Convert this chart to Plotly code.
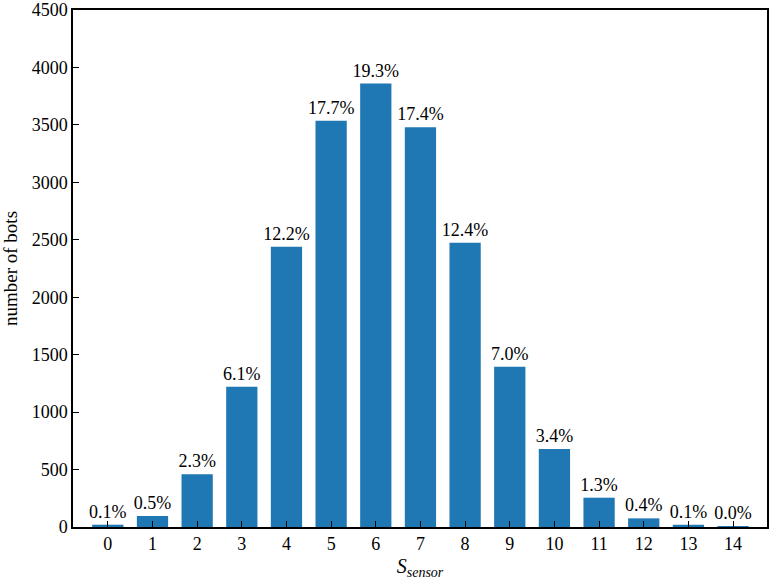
import plotly.graph_objs as go

# bot counts per sensor score
scores = list(range(15))
counts = [20, 95, 460, 1220, 2440, 3535, 3860, 3480, 2475, 1395, 680, 255, 75, 20, 3]
pct_labels = ["0.1%", "0.5%", "2.3%", "6.1%", "12.2%", "17.7%", "19.3%", "17.4%",
              "12.4%", "7.0%", "3.4%", "1.3%", "0.4%", "0.1%", "0.0%"]

font = dict(family="Liberation Serif", size=18, color="black")
title_font = dict(family="Liberation Serif", size=19, color="black")

bars = go.Bar(
    x=scores,
    y=counts,
    width=0.7,
    marker=dict(color="#1f77b4", line=dict(width=0)),
    text=pct_labels,
    textposition="outside",
    constraintext="none",
    cliponaxis=False,
    textfont=font,
)

axis_common = dict(
    showline=True, linecolor="black", linewidth=1.5, mirror=True,
    ticks="inside", ticklen=6, tickwidth=1.2, tickcolor="black",
    showgrid=False, zeroline=False, tickfont=font, automargin=False,
    ticklabeloverflow="allow",
)

layout = go.Layout(
    width=772, height=580,
    margin=dict(l=73, r=5, t=10, b=53),
    plot_bgcolor="white", paper_bgcolor="white",
    font=font,
    showlegend=False,
    xaxis=dict(axis_common, range=[-0.78, 14.76], tickvals=scores,
               title=dict(text="<i>S<sub>sensor</sub></i>", font=dict(title_font, size=20),
                          standoff=14)),
    yaxis=dict(axis_common, range=[0, 4500], dtick=500,
               title=dict(text="number of bots", font=title_font)),
)

fig = go.Figure(data=[bars], layout=layout)
# drop the default body margin so the figure fills the window exactly
fig.write_html("out.html", config={"displayModeBar": False},
               post_script="document.body.style.margin='0';")
